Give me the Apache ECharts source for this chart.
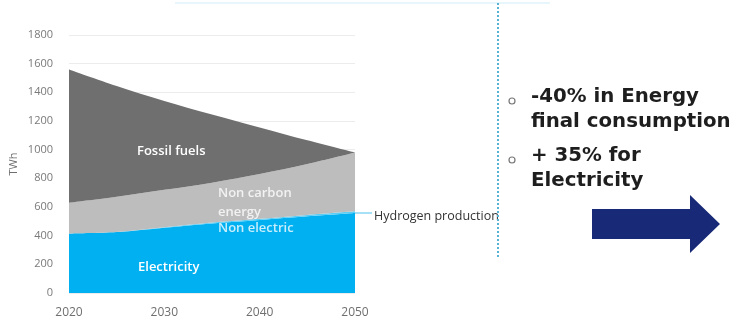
<!DOCTYPE html>
<html>
<head>
<meta charset="utf-8">
<script src="https://cdn.jsdelivr.net/npm/echarts@6/dist/echarts.min.js"></script>
<style>
  html, body { margin: 0; padding: 0; background: #ffffff; }
  #chart { width: 734px; height: 320px; }
</style>
</head>
<body>
<div id="chart"></div>
<script>
// Final energy consumption by carrier (TWh)
const years = ['2020', '2025', '2030', '2035', '2040', '2045', '2050'];
const electricity = [415, 425, 455, 485, 510, 535, 558];
const hydrogen = [0, 0, 3, 6, 8, 10, 12];
const nonCarbon = [215, 247, 262, 279, 312, 355, 410];
const fossilFuels = [930, 773, 620, 475, 325, 165, 0];
const yTicks = { min: 0, max: 1800, step: 200 };

const chart = echarts.init(document.getElementById('chart'), null, { renderer: 'canvas' });

function layer(name, data, color) {
  return {
    name: name,
    type: 'line',
    stack: 'total',
    data: data,
    smooth: 0.35,
    symbol: 'none',
    lineStyle: { width: 0 },
    areaStyle: { color: color, opacity: 1 },
    emphasis: { disabled: true },
    z: 2
  };
}

const labelFont = '"Open Sans", "Liberation Sans", sans-serif';

function caption(text, left, top, fill, size, weight, family) {
  return {
    type: 'text', left: left, top: top, z: 50,
    style: {
      text: text, fill: fill,
      fontSize: size, fontWeight: weight || 'normal',
      fontFamily: family || 'Open Sans'
    }
  };
}

chart.setOption({
  animation: false,
  backgroundColor: '#ffffff',
  grid: { left: 69, right: 379, top: 35, bottom: 27, containLabel: false },
  xAxis: {
    type: 'category',
    data: years,
    boundaryGap: false,
    axisLine: { show: false },
    axisTick: { show: false },
    axisLabel: {
      interval: 1,
      color: '#6f6f6f',
      fontFamily: labelFont,
      fontSize: 12,
      margin: 14
    },
    splitLine: { show: false }
  },
  yAxis: {
    type: 'value',
    min: yTicks.min,
    max: yTicks.max,
    interval: yTicks.step,
    name: 'TWh',
    nameLocation: 'middle',
    nameGap: 50,
    nameRotate: 90,
    nameTextStyle: { color: '#6f6f6f', fontFamily: labelFont, fontSize: 11 },
    axisLine: { show: false },
    axisTick: { show: false },
    axisLabel: {
      color: '#7a7a7a', fontFamily: labelFont, fontSize: 11, margin: 16,
      formatter: function (v) { return String(v); }
    },
    splitLine: { lineStyle: { color: '#ececec', width: 1 } }
  },
  series: [
    layer('Electricity', electricity, '#00b0f0'),
    layer('Hydrogen production', hydrogen, '#5ccdf5'),
    layer('Non carbon energy', nonCarbon, '#bdbdbd'),
    layer('Fossil fuels', fossilFuels, '#6f6f6f')
  ],
  graphic: [
    // area captions
    caption('Fossil fuels', 137, 145, '#ffffff', 13, 600),
    caption('Non carbon', 218, 187, '#f2f2f2', 13, 600),
    caption('energy', 218, 206, '#f2f2f2', 13, 600),
    caption('Non electric', 218, 222, '#c8eefc', 13, 600),
    caption('Electricity', 138, 261, '#ffffff', 13, 600),
    // hydrogen leader and caption
    { type: 'line', z: 50, shape: { x1: 355, y1: 213, x2: 372, y2: 213 }, style: { stroke: '#4cc2ee', lineWidth: 1 } },
    caption('Hydrogen production', 374, 210, '#333333', 12.5),
    // faint header rule and dotted separator
    { type: 'line', z: 50, shape: { x1: 175, y1: 3, x2: 550, y2: 3 }, style: { stroke: '#e6f6fb', lineWidth: 2 } },
    { type: 'line', z: 50, shape: { x1: 498, y1: 3, x2: 498, y2: 258 }, style: { stroke: '#5ab2d6', lineWidth: 2, lineDash: [2, 2] } },
    // bullet points
    { type: 'circle', z: 50, shape: { cx: 512, cy: 101, r: 3 }, style: { fill: 'none', stroke: '#777777', lineWidth: 1.2 } },
    { type: 'circle', z: 50, shape: { cx: 512, cy: 160, r: 3 }, style: { fill: 'none', stroke: '#777777', lineWidth: 1.2 } },
    caption('-40% in Energy', 531, 87, '#1e1e1e', 19.8, 'bold', 'DejaVu Sans'),
    caption('final consumption', 531, 112, '#1e1e1e', 19.8, 'bold', 'DejaVu Sans'),
    caption('+ 35% for', 531, 146, '#1e1e1e', 19.8, 'bold', 'DejaVu Sans'),
    caption('Electricity', 531, 171, '#1e1e1e', 19.8, 'bold', 'DejaVu Sans'),
    // arrow
    {
      type: 'polygon', z: 50,
      shape: { points: [[592, 209], [690, 209], [690, 195], [720, 224], [690, 253], [690, 239], [592, 239]] },
      style: { fill: '#182a77' }
    }
  ]
});
</script>
</body>
</html>
